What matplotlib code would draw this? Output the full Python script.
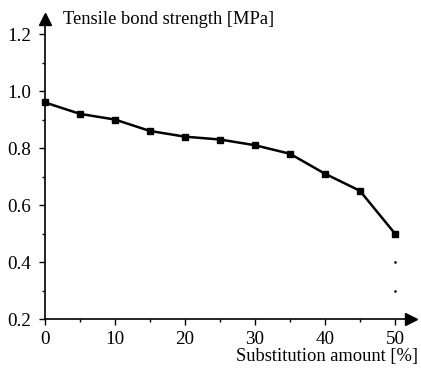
import matplotlib
matplotlib.use("Agg")
import matplotlib.pyplot as plt
from matplotlib.ticker import MultipleLocator

substitution = [0, 5, 10, 15, 20, 25, 30, 35, 40, 45, 50]
strength = [0.96, 0.92, 0.90, 0.86, 0.84, 0.83, 0.81, 0.78, 0.71, 0.65, 0.50]
stray_x = [50, 50]
stray_y = [0.40, 0.30]

plt.rcParams['font.family'] = ['Liberation Serif', 'DejaVu Serif']

fig = plt.figure(figsize=(4.21, 3.70), dpi=100)
x0, x1 = 45, 411
y0, y1 = 319, 19
ax = fig.add_axes([x0/421, (370 - y0)/370, (x1 - x0)/421, (y0 - y1)/370])

ax.plot(substitution, strength, color='black', lw=1.8, marker='s', ms=5,
        clip_on=False, zorder=3)
ax.plot(stray_x, stray_y, linestyle='none', marker='s', ms=0.8, color='black',
        clip_on=False)

ax.set_xlim(0, 52.3)
ax.set_ylim(0.2, 1.253)
ax.spines['top'].set_visible(False)
ax.spines['right'].set_visible(False)
for s in ('left', 'bottom'):
    ax.spines[s].set_linewidth(1.2)

ax.xaxis.set_minor_locator(MultipleLocator(5))
ax.yaxis.set_minor_locator(MultipleLocator(0.1))
ax.set_xticks([0, 10, 20, 30, 40, 50])
ax.set_yticks([0.2, 0.4, 0.6, 0.8, 1.0, 1.2])
ax.set_yticklabels(['0.2', '0.4', '0.6', '0.8', '1.0', '1.2'])
ax.tick_params(which='major', length=4, width=1, labelsize=13.8, direction='out')
ax.tick_params(axis='x', which='major', pad=5)
ax.tick_params(axis='y', which='major', pad=6)
ax.tick_params(which='minor', length=2.5, width=1, direction='out')

ax.plot(1, 0, marker='>', color='black', ms=9, transform=ax.transAxes, clip_on=False)
ax.plot(0, 1, marker='^', color='black', ms=9, transform=ax.transAxes, clip_on=False)

fig.text(63/421, 1 - 20/370, 'Tensile bond strength [MPa]', fontsize=13.3,
         ha='left', va='center')
fig.text(418/421, 1 - 357/370, 'Substitution amount [%]', fontsize=13.3,
         ha='right', va='center')

fig.savefig('out.png', dpi=100)
